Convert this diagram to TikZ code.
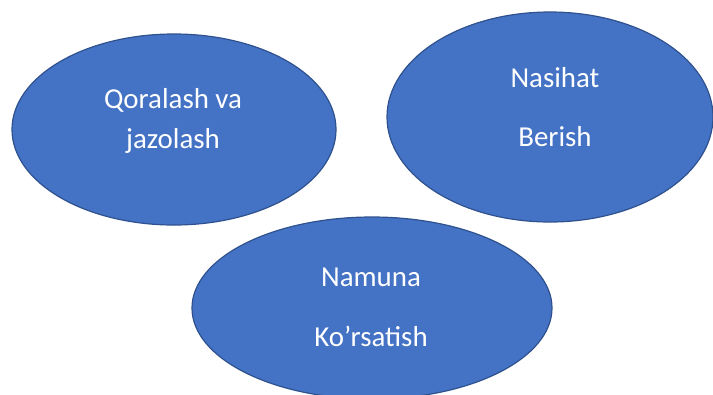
\documentclass[tikz,border=0pt]{standalone}
\usepackage{fontspec}
\setmainfont{Carlito}
\usetikzlibrary{shapes.geometric}
\definecolor{ovalblue}{HTML}{4472C4}
\definecolor{ovaledge}{HTML}{2F528F}
\tikzset{
  oval/.style={ellipse, fill=ovalblue, draw=ovaledge, line width=1.2bp, inner sep=0pt},
  lbl/.style={text=white, font=\fontsize{29}{34}\selectfont, anchor=base, inner sep=0pt}
}
\begin{document}
\begin{tikzpicture}[x=1bp,y=-1bp]
\useasboundingbox (0,0) rectangle (713,394);
% the three ovals
\node[oval, minimum width=324bp, minimum height=191bp] (qoral) at (174,129.5) {};
\node[oval, minimum width=326bp, minimum height=210bp] (nasih) at (550,117) {};
\node[oval, minimum width=360bp, minimum height=182bp] (namun) at (372,308) {};
% texts
\node[lbl] (qoralA) at (173,108) {Qoralash va};
\node[lbl] (qoralB) at (173,148) {jazolash};
\node[lbl] (nasihA) at (555,87) {Nasihat};
\node[lbl] (nasihB) at (555,146) {Berish};
\node[lbl] (namunA) at (371,286) {Namuna};
\node[lbl] (namunB) at (371,346) {Ko’rsatish};
\end{tikzpicture}
\end{document}
